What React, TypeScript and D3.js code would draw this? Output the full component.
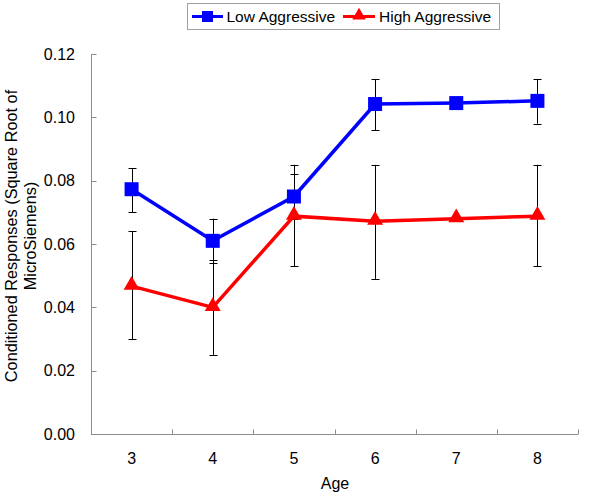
import React from "react";
import * as d3 from "d3";

const ages = ["3", "4", "5", "6", "7", "8"];
const lowValues = [0.0773, 0.061, 0.075, 0.1042, 0.1045, 0.1052];
const highValues = [0.0467, 0.0400, 0.0688, 0.0672, 0.0680, 0.0688];
const lowErrLo = [0.070, 0.054, 0.068, 0.096, null, 0.098];
const lowErrHi = [0.084, 0.068, 0.082, 0.112, null, 0.112];
const highErrLo = [0.030, 0.025, 0.053, 0.049, null, 0.053];
const highErrHi = [0.064, 0.055, 0.085, 0.085, null, 0.085];
const yTicks = [0, 0.02, 0.04, 0.06, 0.08, 0.1, 0.12];
const seriesNames = ["Low Aggressive", "High Aggressive"];

const W = 600, H = 496;
const FONT = "Arial, 'Liberation Sans', sans-serif";

export default function App() {
  const x = d3.scaleBand<string>().domain(ages).range([91, 578]).paddingInner(0).paddingOuter(0);
  const y = d3.scaleLinear().domain([0, 0.12]).range([434, 54]);
  const cx = (a: string) => (x(a) as number) + x.bandwidth() / 2;
  const line = d3.line<number>().x((_, i) => cx(ages[i])).y((v) => y(v));
  const axisColor = "#8c8c8c";
  const tri = d3.symbol().type(d3.symbolTriangle).size(110)();
  const triSmall = d3.symbol().type(d3.symbolTriangle).size(80)();

  const errBars = (lo: (number | null)[], hi: (number | null)[], key: string) =>
    ages.map((a, i) => {
      const l = lo[i], h = hi[i];
      if (l == null || h == null) return null;
      const px = Math.round(cx(a)) + 0.5;
      return (
        <g key={key + a} stroke="#000" strokeWidth={1}>
          <line x1={px} x2={px} y1={y(l)} y2={y(h)} />
          <line x1={px - 4} x2={px + 4} y1={Math.round(y(l)) + 0.5} y2={Math.round(y(l)) + 0.5} />
          <line x1={px - 4} x2={px + 4} y1={Math.round(y(h)) + 0.5} y2={Math.round(y(h)) + 0.5} />
        </g>
      );
    });

  return (
    <svg width={W} height={H} style={{ position: "absolute", left: 0, top: 0, background: "#fff" }} fontFamily={FONT}>
      <rect width={W} height={H} fill="#fff" />
      {/* legend */}
      <rect x={187.5} y={3.5} width={312} height={26} fill="#fff" stroke="#a0a0a0" strokeWidth={1} />
      <line x1={192} x2={223} y1={16.5} y2={16.5} stroke="#0000ff" strokeWidth={3} />
      <rect x={202} y={11} width={11} height={11} fill="#0000ff" />
      <text x={226.5} y={22} fontSize={15.5} fill="#000">{seriesNames[0]}</text>
      <line x1={343} x2={375} y1={16.5} y2={16.5} stroke="#ff0000" strokeWidth={3} />
      <path d={triSmall as string} transform="translate(359,15.5)" fill="#ff0000" />
      <text x={379} y={22} fontSize={15.5} fill="#000">{seriesNames[1]}</text>

      {/* axes */}
      <line x1={91.5} x2={91.5} y1={54} y2={434.5} stroke={axisColor} />
      <line x1={91} x2={578} y1={434.5} y2={434.5} stroke={axisColor} />
      {yTicks.map((t) => (
        <g key={"yt" + t}>
          <line x1={91.5} x2={96.5} y1={Math.round(y(t)) + 0.5} y2={Math.round(y(t)) + 0.5} stroke={axisColor} />
          <text x={75} y={y(t) + 5.5} textAnchor="end" fontSize={16} fill="#000">{t.toFixed(2)}</text>
        </g>
      ))}
      {ages.map((a) => (
        <line key={"xt" + a} x1={Math.round((x(a) as number) + x.bandwidth()) + 0.5} x2={Math.round((x(a) as number) + x.bandwidth()) + 0.5} y1={434.5} y2={429.5} stroke={axisColor} />
      ))}
      {ages.map((a) => (
        <text key={"xl" + a} x={cx(a)} y={463.5} textAnchor="middle" fontSize={16} fill="#000">{a}</text>
      ))}
      <text x={335} y={489} textAnchor="middle" fontSize={16} fill="#000">Age</text>
      <text transform="translate(17,236) rotate(-90)" textAnchor="middle" fontSize={16.3} fill="#000">
        <tspan x={0} y={0}>Conditioned Responses (Square Root of</tspan>
        <tspan x={0} y={18.5}>MicroSiemens)</tspan>
      </text>

      {/* error bars */}
      {errBars(lowErrLo, lowErrHi, "le")}
      {errBars(highErrLo, highErrHi, "he")}

      {/* lines */}
      <path d={line(highValues) as string} fill="none" stroke="#ff0000" strokeWidth={3.5} />
      <path d={line(lowValues) as string} fill="none" stroke="#0000ff" strokeWidth={3.5} />

      {/* markers */}
      {highValues.map((v, i) => (
        <path key={"hm" + i} d={tri as string} transform={`translate(${cx(ages[i])},${y(v) - 1})`} fill="#ff0000" />
      ))}
      {lowValues.map((v, i) => (
        <rect key={"lm" + i} x={cx(ages[i]) - 7} y={y(v) - 7} width={14} height={14} fill="#0000ff" />
      ))}
    </svg>
  );
}
